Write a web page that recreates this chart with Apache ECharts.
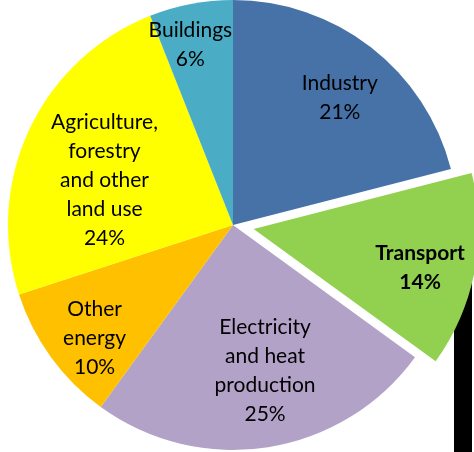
<!DOCTYPE html>
<html>
<head>
<meta charset="utf-8">
<script src="https://cdn.jsdelivr.net/npm/echarts@6/dist/echarts.min.js"></script>
<style>html,body{margin:0;padding:0;background:#fff;}#c{width:474px;height:452px;}</style>
</head>
<body>
<div id="c"></div>
<script>
const categories = ["Industry", "Transport", "Electricity\nand heat\nproduction", "Other\nenergy", "Agriculture,\nforestry\nand other\nland use", "Buildings"];
const shares = [21, 14, 25, 10, 24, 6];
const colors = ["#4672A7", "#92D050", "#B3A2C7", "#FFC000", "#FFFF00", "#4BACC6"];
const labelShift = [[36, -36], [53, 17], [14, 32], [-45, 45], [-24, 4], [-21, -67]];

const chart = echarts.init(document.getElementById('c'), null, {renderer: 'canvas'});
chart.setOption({
  animation: false,
  graphic: [{
    type: 'rect', z: -10,
    shape: {x: 454, y: 260, width: 18, height: 192},
    style: {fill: '#000'}
  }],
  series: [{
    type: 'pie',
    center: [233, 225],
    radius: [0, 225],
    startAngle: 90,
    clockwise: true,
    selectedMode: 'single',
    selectedOffset: 21,
    emphasis: {disabled: true},
    label: {
      position: 'inside',
      formatter: '{b}\n{c}%',
      fontFamily: 'Lato',
      fontSize: 21,
      lineHeight: 29,
      color: '#000',
      align: 'center'
    },
    labelLine: {show: false},
    labelLayout: function (p) {
      return {dx: labelShift[p.dataIndex][0], dy: labelShift[p.dataIndex][1]};
    },
    data: categories.map(function (c, i) {
      const d = {name: c, value: shares[i], itemStyle: {color: colors[i]}};
      if (i === 1) {
        d.selected = true;
        d.label = {fontWeight: 'bold'};
      }
      return d;
    })
  }]
});
</script>
</body>
</html>
